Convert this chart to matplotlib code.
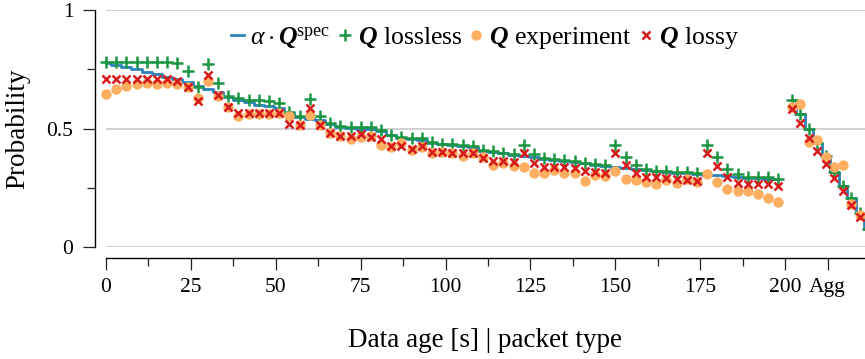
import numpy as np
import matplotlib
matplotlib.use("Agg")
import matplotlib.pyplot as plt
from matplotlib.ticker import FixedLocator

plt.rcParams['font.family'] = ['Liberation Serif', 'DejaVu Serif']
plt.rcParams['mathtext.fontset'] = 'custom'
plt.rcParams['mathtext.rm'] = 'Liberation Serif'
plt.rcParams['mathtext.it'] = 'Liberation Serif:italic'
plt.rcParams['mathtext.bf'] = 'Liberation Serif:bold'
plt.rcParams['mathtext.bfit'] = 'Liberation Serif:italic:bold'

# data age [s] for the regular packets, and slots for the aggregated packets
ages = list(range(0, 199, 3))
agg_pos = [202, 204.5, 207, 209.5, 212, 214.5, 217, 219.5, 222, 224.5]

spec = [0.775, 0.770, 0.761, 0.750, 0.740, 0.729, 0.718, 0.707, 0.695, 0.680,
        0.665, 0.655, 0.635, 0.620, 0.612, 0.600, 0.595, 0.585, 0.565, 0.548,
        0.540, 0.535, 0.518, 0.508, 0.503, 0.500, 0.497, 0.488, 0.472, 0.462,
        0.455, 0.452, 0.440, 0.433, 0.430, 0.425, 0.420, 0.407, 0.402, 0.395,
        0.390, 0.385, 0.380, 0.372, 0.367, 0.364, 0.360, 0.353, 0.347, 0.342,
        0.338, 0.335, 0.330, 0.325, 0.320, 0.318, 0.314, 0.311, 0.308, 0.305,
        0.302, 0.298, 0.295, 0.292, 0.290, 0.288, 0.285]
lossless = [0.782, 0.782, 0.782, 0.782, 0.782, 0.782, 0.782, 0.778, 0.744, 0.674,
            0.772, 0.691, 0.638, 0.627, 0.620, 0.620, 0.618, 0.606, 0.571, 0.553,
            0.623, 0.553, 0.522, 0.510, 0.507, 0.507, 0.505, 0.494, 0.473, 0.466,
            0.459, 0.459, 0.442, 0.435, 0.435, 0.430, 0.426, 0.409, 0.407, 0.398,
            0.392, 0.430, 0.392, 0.374, 0.370, 0.367, 0.364, 0.356, 0.350, 0.346,
            0.430, 0.378, 0.346, 0.328, 0.322, 0.322, 0.318, 0.315, 0.311, 0.430,
            0.378, 0.328, 0.308, 0.297, 0.294, 0.294, 0.285]
experiment = [0.646, 0.667, 0.680, 0.686, 0.690, 0.686, 0.690, 0.686, 0.674, 0.630,
              0.702, 0.637, 0.589, 0.553, 0.561, 0.561, 0.561, 0.567, 0.553, 0.515,
              0.557, 0.516, 0.480, 0.468, 0.454, 0.463, 0.470, 0.430, 0.420, 0.437,
              0.409, 0.420, 0.398, 0.402, 0.395, 0.384, 0.398, 0.381, 0.346, 0.354,
              0.342, 0.339, 0.311, 0.311, 0.325, 0.314, 0.311, 0.280, 0.304, 0.300,
              0.322, 0.285, 0.283, 0.276, 0.265, 0.283, 0.270, 0.285, 0.276, 0.310,
              0.276, 0.243, 0.237, 0.237, 0.223, 0.205, 0.189]
lossy = [0.708, 0.708, 0.708, 0.708, 0.708, 0.708, 0.708, 0.700, 0.674, 0.617,
         0.726, 0.640, 0.589, 0.567, 0.567, 0.567, 0.567, 0.564, 0.518, 0.513,
         0.585, 0.516, 0.480, 0.468, 0.468, 0.475, 0.466, 0.454, 0.426, 0.426,
         0.412, 0.426, 0.402, 0.402, 0.398, 0.395, 0.395, 0.377, 0.364, 0.362,
         0.360, 0.395, 0.356, 0.339, 0.336, 0.336, 0.332, 0.322, 0.318, 0.314,
         0.395, 0.346, 0.314, 0.297, 0.294, 0.290, 0.285, 0.283, 0.280, 0.398,
         0.342, 0.297, 0.271, 0.266, 0.266, 0.266, 0.258]

agg_spec = [0.620, 0.560, 0.497, 0.440, 0.385, 0.318, 0.257, 0.205, 0.145, 0.075]
agg_lossless = [0.620, 0.560, 0.497, 0.440, 0.385, 0.318, 0.257, 0.205, 0.145, 0.075]
agg_experiment = [0.590, 0.603, 0.444, 0.451, 0.381, 0.336, 0.346, 0.181, 0.135, np.nan]
agg_lossy = [0.581, 0.522, 0.461, 0.405, 0.350, 0.290, 0.238, 0.177, 0.128, np.nan]

major_ticks = [0, 25, 50, 75, 100, 125, 150, 175, 200, 212.5]
major_labels = ['0', '25', '50', '75', '100', '125', '150', '175', '200', 'Agg']
minor_ticks = [12.5, 37.5, 62.5, 87.5, 112.5, 137.5, 162.5, 187.5]

c_blue = '#2b83ba'
c_green = '#1a9641'
c_orange = '#fdae61'
c_red = '#d7191c'

fig = plt.figure(figsize=(8.65, 3.59), dpi=100)
ax = fig.add_axes([106 / 865, 112 / 359, 759 / 865, 237 / 359])

ax.plot(ages, spec, drawstyle='steps-mid', color=c_blue, lw=2, clip_on=False, zorder=2,
        label=r'$\alpha\cdot\mathbfit{Q}^{\mathrm{spec}}$')
ax.plot(agg_pos, agg_spec, drawstyle='steps-mid', color=c_blue, lw=2, clip_on=False, zorder=2)

ax.plot(ages + agg_pos, lossless + agg_lossless, ls='none', marker='+', ms=8, mew=1.8,
        color=c_green, clip_on=False, zorder=3, label=r'$\mathbfit{Q}$ lossless')
ax.plot(ages + agg_pos, experiment + agg_experiment, ls='none', marker='o', ms=7.5,
        color=c_orange, mec='none', clip_on=False, zorder=4, label=r'$\mathbfit{Q}$ experiment')
ax.plot(ages + agg_pos, lossy + agg_lossy, ls='none', marker='x', ms=5.5, mew=1.8,
        color=c_red, clip_on=False, zorder=5, label=r'$\mathbfit{Q}$ lossy')

ax.set_xlim(0, 223.5)
ax.set_ylim(0, 1)

ax.set_yticks([0, 0.5, 1])
ax.set_yticklabels(['0', '0.5', '1'])
ax.yaxis.set_minor_locator(FixedLocator([0.25, 0.75]))
ax.set_xticks(major_ticks)
ax.set_xticklabels(major_labels)
ax.xaxis.set_minor_locator(FixedLocator(minor_ticks))

ax.tick_params(which='major', direction='out', length=8.5, width=0.9, labelsize=15.5,
               color='#222222', pad=6)
ax.tick_params(axis='y', which='major', pad=7)
ax.tick_params(which='minor', direction='out', length=5.5, width=0.9, color='#222222')

ax.grid(axis='y', which='major', color='#cccccc', lw=1.3)
ax.set_axisbelow(True)

for s in ['top', 'right']:
    ax.spines[s].set_visible(False)
ax.spines['left'].set_position(('outward', 8))
ax.spines['bottom'].set_position(('outward', 8))
ax.spines['left'].set_linewidth(1.0)
ax.spines['bottom'].set_linewidth(1.0)

ax.set_ylabel('Probability', fontsize=19.5, labelpad=12)
ax.set_xlabel('Data age [s] | packet type', fontsize=19.5, labelpad=22)

ax.legend(loc='center', bbox_to_anchor=((485 - 106) / 759, (247 - 38) / 237), ncol=4,
          frameon=False, fontsize=18.5, handlelength=0.5, handletextpad=0.25,
          columnspacing=0.3, borderpad=0.1)

fig.savefig('out.png', dpi=100)
